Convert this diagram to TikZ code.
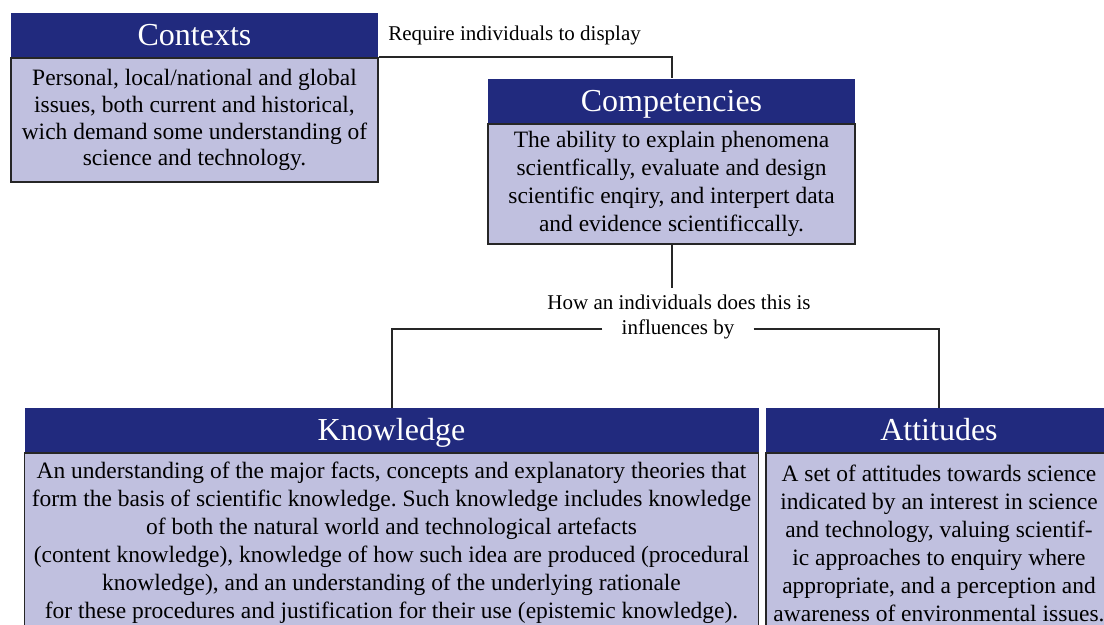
\documentclass[tikz,border=0pt]{standalone}
\usepackage{fontspec}
\setmainfont{Liberation Serif}
\usetikzlibrary{positioning}
\definecolor{headblue}{RGB}{33,42,126}
\definecolor{bodylav}{RGB}{192,192,223}
\frenchspacing
\tikzset{
    headbox/.style={fill=headblue, text=white, font=\fontsize{24}{28}\selectfont,
        inner sep=0pt, text height=16pt, text depth=0pt, minimum height=44*0.75pt},
    bodybox/.style={fill=bodylav, draw=black!85, line width=1.4pt, align=center,
        font=\fontsize{17.6}{21}\selectfont, inner sep=0pt},
    lbl/.style={font=\fontsize{15.75}{20}\selectfont, inner sep=0pt, align=center},
    conn/.style={line width=1.5pt, draw=black!85}
}
\begin{document}
\begin{tikzpicture}[x=0.75pt, y=-0.75pt]
    \useasboundingbox (0,0) rectangle (1104,625);
    \clip (0,0) rectangle (1104,625);
    % contexts
    \node[headbox, minimum width=367*0.75pt] (conhead) at (194.5,35) {Contexts};
    \node[bodybox, minimum width=367*0.75pt, minimum height=124*0.75pt, below=0pt of conhead,
        font=\fontsize{17.6}{20}\selectfont] (conbody)
        {Personal, local/national and global\\issues, both current and historical,\\wich demand some understanding of\\science and technology.};
    % competencies
    \node[headbox, minimum width=367*0.75pt] (comphead) at (671.5,100.5) {Competencies};
    \node[bodybox, minimum width=367*0.75pt, minimum height=120*0.75pt, below=0pt of comphead] (compbody)
        {The ability to explain phenomena\\scientfically, evaluate and design\\scientific enqiry, and interpert data\\and evidence scientificcally.};
    % knowledge
    \node[headbox, minimum width=734*0.75pt] (knowhead) at (391.5,430) {Knowledge};
    \node[bodybox, minimum width=734*0.75pt, minimum height=180*0.75pt, below=0pt of knowhead] (knowbody)
        {An understanding of the major facts, concepts and explanatory theories that\\
        form the basis of scientific knowledge. Such knowledge includes knowledge\\
        of both the natural world and technological artefacts\\
        (content knowledge), knowledge of how such idea are produced (procedural\\
        knowledge), and an understanding of the underlying rationale\\
        for these procedures and justification for their use (epistemic knowledge).};
    % attitudes
    \node[headbox, minimum width=346*0.75pt] (atthead) at (939,430) {Attitudes};
    \node[bodybox, minimum width=346*0.75pt, minimum height=180*0.75pt, below=0pt of atthead] (attbody)
        {A set of attitudes towards science\\indicated by an interest in science\\and technology, valuing scientif-\\ic approaches to enquiry where\\appropriate, and a perception and\\awareness of environmental issues.};
    % labels
    \node[lbl, anchor=west] (reqlbl) at (388,35) {Require individuals to display};
    \node[lbl, inner ysep=5pt] (howlbl) at (679,302) {How an individuals does this is};
    \node[lbl, inner xsep=19*0.75pt] (infllbl) at (678,329) {influences by};
    % connectors
    \draw[conn] (conbody.north east) -| (comphead.north);
    \draw[conn] (compbody.south) -- (compbody.south |- howlbl.north);
    \draw[conn] (infllbl.west) -| (knowhead.north);
    \draw[conn] (infllbl.east) -| (atthead.north);
\end{tikzpicture}
\end{document}
